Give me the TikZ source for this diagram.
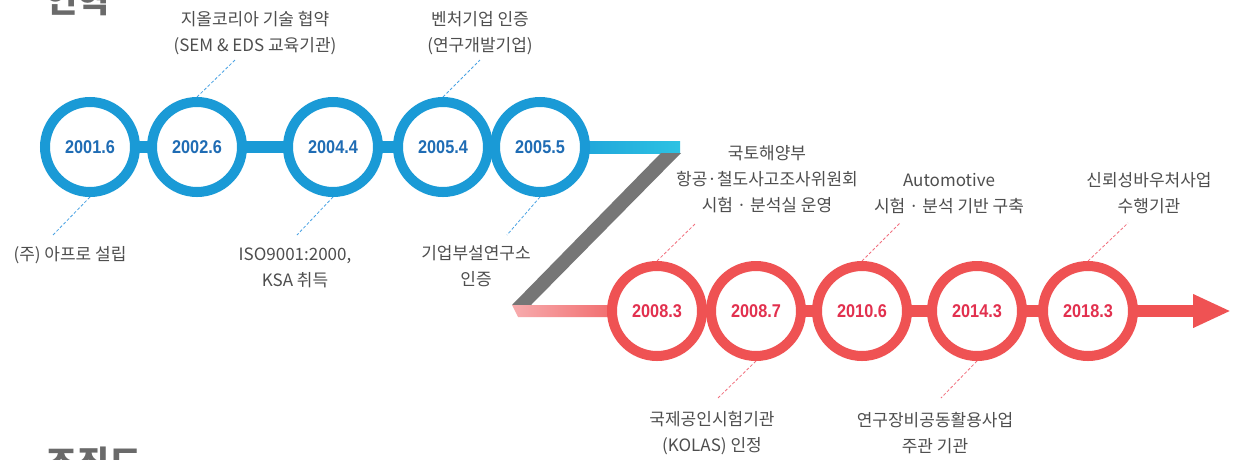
\documentclass[tikz,border=0pt]{standalone}
\usepackage{fontspec}
\setmainfont{Noto Sans CJK KR}
\newfontfamily\datefont[FakeStretch=0.88]{Liberation Sans}
\usetikzlibrary{calc,backgrounds,arrows.meta}
\definecolor{ringblue}{HTML}{1A9AD6}
\definecolor{barcyan}{HTML}{2DC2E3}
\definecolor{dateblue}{HTML}{1F6CB4}
\definecolor{ringred}{HTML}{EF5253}
\definecolor{barpink}{HTML}{F7ACAE}
\definecolor{datered}{HTML}{E2304E}
\definecolor{labelgray}{HTML}{4E4E4E}
\definecolor{headgray}{HTML}{6A6A6A}
\definecolor{dashblue}{HTML}{4AA3E4}
\definecolor{dashred}{HTML}{F2707E}
\definecolor{foldgray}{HTML}{9C9C9C}
\definecolor{folddark}{HTML}{767676}
\begin{document}
\begin{tikzpicture}[x=1pt,y=-1pt,
  ring/.style={circle, line width=10pt, fill=white, minimum size=90pt, inner sep=0pt,
    font=\datefont\bfseries\fontsize{18.5}{18.5}\selectfont},
  bring/.style={ring, draw=ringblue, text=dateblue},
  rring/.style={ring, draw=ringred, text=datered},
  lbl/.style={align=center, text=labelgray, inner sep=0pt, font=\fontsize{17}{26}\selectfont},
  head/.style={text=headgray, inner sep=0pt, font=\bfseries\fontsize{35}{35}\selectfont},
  bdash/.style={draw=dashblue, line width=0.8pt, dash pattern=on 3pt off 2pt},
  rdash/.style={draw=dashred, line width=0.8pt, dash pattern=on 3pt off 2pt},
]
\useasboundingbox (0,0) rectangle (1235,459);
\clip (0,0) rectangle (1235,459);

% headings (cut by the frame)
\node[head, anchor=base west] (h1) at (45,12.5) {연혁};
\node[head, anchor=base west] (h2) at (45,476) {조직도};

% blue milestones
\node[bring] (c1) at (90,147) {2001.6};
\node[bring] (c2) at (197,147) {2002.6};
\node[bring] (c3) at (333,147) {2004.4};
\node[bring] (c4) at (443,147) {2005.4};
\node[bring] (c5) at (540,147) {2005.5};

% red milestones
\node[rring] (r1) at (657,311) {2008.3};
\node[rring] (r2) at (756,311) {2008.7};
\node[rring] (r3) at (862,311) {2010.6};
\node[rring] (r4) at (977,311) {2014.3};
\node[rring] (r5) at (1088,311) {2018.3};

% labels
\node[lbl] (l1) at (70,255) {(주) 아프로 설립};
\node[lbl] (l2) at (255,33.5) {지올코리아 기술 협약\\(SEM \& EDS 교육기관)};
\node[lbl] (l3) at (295,268) {ISO9001:2000,\\KSA 취득};
\node[lbl] (l4) at (480,33) {벤처기업 인증\\(연구개발기업)};
\node[lbl] (l5) at (476,266.5) {기업부설연구소\\인증};
\node[lbl] (l6) at (767,179.5) {국토해양부\\항공·철도사고조사위원회\\시험 · 분석실 운영};
\node[lbl] (l7) at (949,193.5) {Automotive\\시험 · 분석 기반 구축};
\node[lbl] (l8) at (1149,193.5) {신뢰성바우처사업\\수행기관};
\node[lbl] (l9) at (712,433.5) {국제공인시험기관\\(KOLAS) 인정};
\node[lbl] (l10) at (935,433.5) {연구장비공동활용사업\\주관 기관};

% free ends
\coordinate (d1) at (53,235);
\coordinate (d2) at (235,60);
\coordinate (d3) at (297,235);
\coordinate (d4) at (480,60);
\coordinate (d5) at (507,235);
\coordinate (e1) at (696,223);
\coordinate (e2) at (718,398);
\coordinate (e3) at (900,223);
\coordinate (e4) at (941,398);
\coordinate (e5) at (1128,223);
\coordinate (blueend) at (680,147);
\coordinate (redstart) at (512,311);
\coordinate (arrowtip) at (1231,311);

\begin{pgfonlayer}{background}
  \fill[white] (0,0) rectangle (1235,459);
  % dashed leaders
  \draw[bdash] (c1.south) -- (d1);
  \draw[bdash] (c2.north) -- (d2);
  \draw[bdash] (c3.south) -- (d3);
  \draw[bdash] (c4.north) -- (d4);
  \draw[bdash] (c5.south) -- (d5);
  \draw[rdash] (r1.north) -- (e1);
  \draw[rdash] (r2.south) -- (e2);
  \draw[rdash] (r3.north) -- (e3);
  \draw[rdash] (r4.south) -- (e4);
  \draw[rdash] (r5.north) -- (e5);
  % blue bar
  \draw[ringblue, line width=12pt] (c1.center) -- (c5.center);
  \shade[left color=ringblue, right color=barcyan]
    ($(c5.center)+(0,-6)$) rectangle ($(blueend)+(0,6)$);
  % gray fold
  \shade[top color=folddark, middle color=foldgray, bottom color=folddark]
    ($(blueend)+(-19,6)$) -- ($(blueend)+(1,6)$) -- ($(redstart)+(19,-6)$) -- ($(redstart)+(0,-6)$) -- cycle;
  % red bar with arrow
  \shade[left color=barpink, right color=ringred]
    ($(redstart)+(0,-6)$) -- ($(r1.center)+(0,-6)$) -- ($(r1.center)+(0,6)$) -- ($(redstart)+(6,6)$) -- cycle;
  \draw[ringred, line width=12pt, -{Triangle[length=38pt,width=31pt]}] (r1.center) -- (arrowtip);
\end{pgfonlayer}
\end{tikzpicture}
\end{document}
